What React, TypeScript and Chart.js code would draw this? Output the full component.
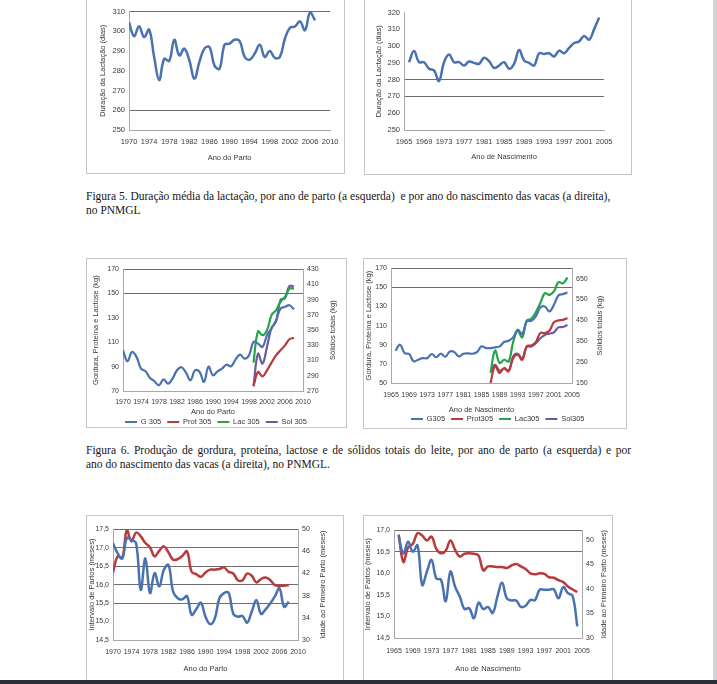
import React, { useEffect, useRef } from 'react';
import { Chart, registerables } from 'chart.js';
Chart.register(...registerables);

// ---------------- DATA ----------------
// Figura 5 – esquerda: duração da lactação por ano de parto
const F5A_YEARS = [1970,1971,1972,1973,1974,1975,1976,1977,1978,1979,1980,1981,1982,1983,1984,1985,1986,1987,1988,1989,1990,1991,1992,1993,1994,1995,1996,1997,1998,1999,2000,2001,2002,2003,2004,2005,2006,2007];
const F5A_DURACAO = [304.6,297.5,302.5,297,300.8,287,275.2,286,285,295.7,287.8,291.2,285.3,275.9,284.5,291.2,292,282.6,281,293.2,293.7,295.7,295,287,285.6,288.7,293.2,287,290,286.5,287,296.2,301.8,302.4,305,300.5,309.5,305.5];

// Figura 5 – direita: duração da lactação por ano de nascimento
const F5B_YEARS = [1966,1967,1968,1969,1970,1971,1972,1973,1974,1975,1976,1977,1978,1979,1980,1981,1982,1983,1984,1985,1986,1987,1988,1989,1990,1991,1992,1993,1994,1995,1996,1997,1998,1999,2000,2001,2002,2003,2004];
const F5B_DURACAO = [290.4,297,290.4,290.4,286.5,285.5,279.2,290.4,295,290.4,290.4,288.4,290.8,290,289.4,293,291,287,288.4,290.4,286.5,289.4,297.7,291.4,290,288.4,295.7,295.3,295.7,293.8,297.3,295.7,298.9,301.8,302.8,306,303.8,310.1,317];

// Figura 6 – esquerda: por ano de parto
const F6A_YEARS_G = [1970,1971,1972,1973,1974,1975,1976,1977,1978,1979,1980,1981,1982,1983,1984,1985,1986,1987,1988,1989,1990,1991,1992,1993,1994,1995,1996,1997,1998,1999,2000,2001,2002,2003,2004,2005,2006,2007,2008];
const F6A_G305 = [103.4,94.4,102,98,88.4,86.2,80.7,78,74.7,79.6,76,80.1,87,89.5,85,78.8,87,85.8,77.5,90,82.9,86.2,88.4,91.6,90.3,95.8,99.9,96.6,99.3,110.3,108.9,106.2,115.8,121.2,128,137.7,139,140.4,137];
const F6A_YEARS_C = [1999,2000,2001,2002,2003,2004,2005,2006,2007,2008];
const F6A_PROT305 = [74.1,85.6,82,87,93.3,99.3,103.4,107.5,112.5,113.6];
const F6A_LAC305 = [93.3,119,115.8,119.9,132.2,136.3,143.2,147.3,154.1,154.1];
const F6A_SOL305 = [276,319,306,328,353,361,389.7,392,408,407];

// Figura 6 – direita: por ano de nascimento
const F6B_YEARS_G = [1966,1967,1968,1969,1970,1971,1972,1973,1974,1975,1976,1977,1978,1979,1980,1981,1982,1983,1984,1985,1986,1987,1988,1989,1990,1991,1992,1993,1994,1995,1996,1997,1998,1999,2000,2001,2002,2003,2004];
const F6B_G305 = [83.7,90,81.3,80.3,72.7,74.3,76,76,80.3,76.9,80.6,77.5,83,82.3,77.8,80.6,81,80.6,82.3,88.3,86.5,86.5,87.2,88.3,92.8,94.2,97.7,105.7,101.2,114.4,115,119.6,129,130,124.8,131.7,141.5,142.9,144.6];
const F6B_YEARS_C = [1987,1988,1989,1990,1991,1992,1993,1994,1995,1996,1997,1998,1999,2000,2001,2002,2003,2004];
const F6B_PROT305 = [50,68,60.4,65.7,62.2,76,79.6,74.3,88.3,89.3,92.8,102.2,102.2,104.6,113.4,115.4,116,117.8];
const F6B_LAC305 = [60.4,84,70.9,74.3,72.6,92.8,104.6,97.7,115,117.1,124,133.5,143.9,142.2,145.7,155.4,154.3,160.3];
const F6B_SOL305 = [205.6,237.3,208.7,218.3,208.7,277,289.7,265.9,324.6,324.6,340.5,364.3,380.2,386.5,392.9,416.7,418.3,427.8];

// Figura 7 – esquerda: por ano de parto
const F7A_YEARS = [1970,1971,1972,1973,1974,1975,1976,1977,1978,1979,1980,1981,1982,1983,1984,1985,1986,1987,1988,1989,1990,1991,1992,1993,1994,1995,1996,1997,1998,1999,2000,2001,2002,2003,2004,2005,2006,2007,2008];
const F7A_INTERVALO = [17.12,16.85,16.71,17.26,17.21,17.12,15.86,16.71,15.77,16.31,15.95,16.4,16.53,15.81,15.63,15.6,15.69,15.18,15.33,15.51,15.13,14.93,15.08,15.63,15.77,15.78,15.21,15.13,15.15,14.97,15.27,15.58,15.21,15.33,15.49,15.68,15.9,15.4,15.54];
const F7A_IDADE = [42.2,45.1,44.8,49.9,47.8,49.4,48.7,47.5,46.7,45.1,46.1,46.9,45.8,44.5,44.6,45.2,46,42.3,41.9,41.4,42.2,42.7,42.7,42.8,43.1,42.3,42,40.8,40.8,42,41.6,40.4,41,41.3,40.8,39.9,39.8,39.8,39.9];

// Figura 7 – direita: por ano de nascimento
const F7B_YEARS = [1966,1967,1968,1969,1970,1971,1972,1973,1974,1975,1976,1977,1978,1979,1980,1981,1982,1983,1984,1985,1986,1987,1988,1989,1990,1991,1992,1993,1994,1995,1996,1997,1998,1999,2000,2001,2002,2003,2004];
const F7B_INTERVALO = [16.85,16.46,16.73,16.5,16.65,15.73,16.04,16.31,15.88,15.85,15.35,16.04,15.69,15.46,15.17,15.19,14.96,15.32,15.17,15.22,15.08,15.46,15.78,15.42,15.37,15.37,15.22,15.25,15.38,15.38,15.62,15.62,15.62,15.63,15.42,15.68,15.54,15.48,14.77];
const F7B_IDADE = [51.1,45.5,48.5,49.2,51.4,50.9,49.9,50.7,48.2,47.3,47.8,49.9,48,46.6,47.2,47.3,47.2,46.8,43.8,44.6,44.6,44.5,44.5,44.3,44.8,45.1,44.6,44.1,43.2,43,43.2,43.1,42.4,42.3,41.8,41.4,40.5,39.9,39.4];

// Tick labels
const TICKS_PARTO = [1970,1974,1978,1982,1986,1990,1994,1998,2002,2006,2010];
const TICKS_NASC = [1965,1969,1973,1977,1981,1985,1989,1993,1997,2001,2005];
const TICKS_DUR_A = [250,260,270,280,290,300,310];
const TICKS_DUR_B = [250,260,270,280,290,300,310,320];
const TICKS_KG_A = [70,90,110,130,150,170];
const TICKS_SOL_A = [270,290,310,330,350,370,390,410,430];
const TICKS_KG_B = [50,70,90,110,130,150,170];
const TICKS_SOL_B = [150,250,350,450,550,650];
const TICKS_IP_A = [14.5,15,15.5,16,16.5,17,17.5];
const TICKS_IDADE_A = [30,34,38,42,46,50];
const TICKS_IP_B = [14.5,15,15.5,16,16.5,17];
const TICKS_IDADE_B = [30,35,40,45,50];

// ---------------- STYLE ----------------
const FONT = "'Liberation Sans Narrow', 'Liberation Sans', Arial, sans-serif";
const TXT = '#383838';
const GRID = '#6e6e6e';
const AXIS = '#a8a8a8';
const BLUE = '#4a72b0';
const RED = '#b83a3c';
const GREEN = '#27a34b';
const PURPLE = '#6a5b9c';
const TITLE_SIZE = 7.5;
const LEG_SIZE = 7.5;
const LEG_PAD = 6;

type S = { label: string; xs: number[]; ys: number[]; color: string; axis: 'y' | 'y2'; width?: number };
type Axis = { min: number; max: number; ticks: number[]; grid?: number[]; title: string; titleX: number; fmt?: (v: number) => string };
type Cfg = {
  box: [number, number, number, number];
  plot: [number, number, number, number];
  tickSize: number;
  xMin: number; xMax: number; xTicks: number[]; xTickY: number; xTitle: string; xTitleY: number;
  legendY?: number; legendCx?: number;
  y: Axis; y2?: Axis; series: S[];
};

const intFmt = (v: number) => String(Math.round(v));
const commaFmt = (v: number) => v.toFixed(1).replace('.', ',');

const rightTitle = {
  id: 'rightTitle',
  afterDraw(chart: any, _a: any, o: any) {
    if (!o || !o.text) return;
    const { ctx, chartArea } = chart;
    ctx.save();
    ctx.translate(o.x, (chartArea.top + chartArea.bottom) / 2);
    ctx.rotate(-Math.PI / 2);
    ctx.font = `${TITLE_SIZE}px ${FONT}`;
    ctx.fillStyle = TXT;
    ctx.textAlign = 'center';
    ctx.textBaseline = 'middle';
    ctx.fillText(o.text, 0, 0);
    ctx.restore();
  },
};

function geometry(cfg: Cfg) {
  const [L, T, R, B] = cfg.plot;
  const tLH = TITLE_SIZE * 1.2;
  let wl = L - cfg.y.titleX + tLH / 2;
  let wr = cfg.y2 ? cfg.y2.titleX - R + 8 : 0;
  const padT = 8;
  let hx: number, xTitlePadB: number, hl = 0;
  if (cfg.legendY) {
    hx = cfg.legendY - B - LEG_PAD - LEG_SIZE / 2;
    xTitlePadB = B + hx - tLH / 2 - cfg.xTitleY;
    hl = LEG_SIZE + LEG_PAD + 10;
  } else {
    hx = cfg.xTitleY - B + tLH / 2;
    xTitlePadB = 0;
  }
  let yTitlePadT = 0;
  if (cfg.legendCx) {
    const nat = (L - wl + R + wr) / 2;
    const d = cfg.legendCx - nat;
    if (d > 0) wr += 2 * d;
    else { wl += -2 * d; yTitlePadT += -2 * d; }
  }
  const cl = Math.floor(L - wl);
  yTitlePadT += (L - wl) - cl;
  wl = L - cl;
  const ct = T - padT;
  const baseR = cfg.y2 ? 2 : 14;
  const W = Math.ceil(wl + (R - L) + wr + baseR);
  const padR = W - (wl + (R - L) + wr);
  const H = Math.ceil(padT + (B - T) + hx + hl + 2);
  const padB = H - (padT + (B - T) + hx + hl);
  return { cl, ct, W, H, wl, wr, padT, padR, padB, hx, xTitlePadB, yTitlePadT, xTickPad: cfg.xTickY - B - cfg.tickSize * 0.6 };
}

const near = (arr: number[] | undefined, v: number) => !!arr && arr.some((a) => Math.abs(a - v) < 1e-6);

function ChartBox({ cfg }: { cfg: Cfg }) {
  const ref = useRef<HTMLCanvasElement>(null);
  const g = geometry(cfg);
  useEffect(() => {
    if (!ref.current) return;
    const tickFont = { size: cfg.tickSize, family: FONT };
    const titleFont = { size: TITLE_SIZE, family: FONT };
    const scales: any = {
      x: {
        type: 'linear', min: cfg.xMin, max: cfg.xMax,
        afterBuildTicks: (s: any) => { s.ticks = cfg.xTicks.map((v) => ({ value: v })); },
        afterFit: (s: any) => { s.height = g.hx; },
        grid: { display: false, drawTicks: false },
        border: { display: true, color: AXIS, width: 1 },
        ticks: { autoSkip: false, maxRotation: 0, minRotation: 0, padding: g.xTickPad, color: TXT, font: tickFont, callback: (v: any) => String(v) },
        title: { display: true, text: cfg.xTitle, color: TXT, font: titleFont, padding: { top: 0, bottom: g.xTitlePadB } },
      },
      y: {
        type: 'linear', position: 'left', min: cfg.y.min, max: cfg.y.max,
        afterBuildTicks: (s: any) => { s.ticks = cfg.y.ticks.map((v) => ({ value: v })); },
        afterFit: (s: any) => { s.width = g.wl; },
        grid: { drawTicks: false, lineWidth: 1, color: (c: any) => (c.tick && near(cfg.y.grid, c.tick.value) ? GRID : 'rgba(0,0,0,0)') },
        border: { display: true, color: AXIS, width: 1 },
        ticks: { padding: 4, color: TXT, font: tickFont, callback: (v: any) => (cfg.y.fmt || intFmt)(Number(v)) },
        title: { display: true, text: cfg.y.title, color: TXT, font: titleFont, padding: { top: g.yTitlePadT, bottom: 0 } },
      },
    };
    if (cfg.y2) {
      const a = cfg.y2;
      scales.y2 = {
        type: 'linear', position: 'right', min: a.min, max: a.max,
        afterBuildTicks: (s: any) => { s.ticks = a.ticks.map((v) => ({ value: v })); },
        afterFit: (s: any) => { s.width = g.wr; },
        grid: { drawOnChartArea: false, drawTicks: false },
        border: { display: true, color: AXIS, width: 1 },
        ticks: { padding: 4, color: TXT, font: tickFont, callback: (v: any) => (a.fmt || intFmt)(Number(v)) },
        title: { display: false },
      };
    }
    const chart = new Chart(ref.current, {
      type: 'line',
      data: {
        datasets: cfg.series.map((s) => ({
          label: s.label,
          data: s.xs.map((x, i) => ({ x, y: s.ys[i] })),
          borderColor: s.color,
          backgroundColor: s.color,
          borderWidth: s.width ?? 2.2,
          pointRadius: 0,
          tension: 0.4,
          fill: false,
          yAxisID: s.axis,
        })),
      },
      options: {
        animation: false,
        responsive: false,
        events: [],
        layout: { padding: { left: 0, top: g.padT, right: g.padR, bottom: g.padB } },
        scales,
        plugins: {
          tooltip: { enabled: false },
          legend: {
            display: !!cfg.legendY,
            position: 'bottom',
            labels: { usePointStyle: true, pointStyle: 'line', pointStyleWidth: 12, padding: LEG_PAD, color: TXT, font: { size: LEG_SIZE, family: FONT } },
          },
          rightTitle: cfg.y2 ? { text: cfg.y2.title, x: cfg.y2.titleX - g.cl } : {},
        } as any,
      },
      plugins: [rightTitle as any],
    } as any);
    return () => chart.destroy();
  }, []);
  const [x0, y0, x1, y1] = cfg.box;
  return (
    <>
      <div style={{ position: 'absolute', left: x0, top: y0, width: x1 - x0, height: y1 - y0, border: '1px solid #c6c6c6', boxSizing: 'border-box' }} />
      <canvas ref={ref} width={g.W} height={g.H} style={{ position: 'absolute', left: g.cl, top: g.ct, width: g.W, height: g.H }} />
    </>
  );
}

// ---------------- CHART CONFIGS ----------------
const CHARTS: Cfg[] = [
  {
    box: [86, -5, 345, 174], plot: [129, 11, 332, 130], tickSize: 7.5,
    xMin: 1970, xMax: 2010, xTicks: TICKS_PARTO, xTickY: 142, xTitle: 'Ano do Parto', xTitleY: 158,
    y: { min: 250, max: 310, ticks: TICKS_DUR_A, grid: [310, 260], title: 'Duração da Lactação (dias)', titleX: 103 },
    series: [{ label: 'Duração', xs: F5A_YEARS, ys: F5A_DURACAO, color: BLUE, axis: 'y', width: 2.5 }],
  },
  {
    box: [364, -5, 632, 175], plot: [404, 12, 606, 130], tickSize: 7.5,
    xMin: 1965, xMax: 2005, xTicks: TICKS_NASC, xTickY: 142, xTitle: 'Ano de Nascimento', xTitleY: 157,
    y: { min: 250, max: 320, ticks: TICKS_DUR_B, grid: [280, 270], title: 'Duração da Lactação (dias)', titleX: 379 },
    series: [{ label: 'Duração', xs: F5B_YEARS, ys: F5B_DURACAO, color: BLUE, axis: 'y', width: 2.5 }],
  },
  {
    box: [86, 258, 347, 428], plot: [123, 269, 303, 391], tickSize: 7,
    xMin: 1970, xMax: 2010, xTicks: TICKS_PARTO, xTickY: 402, xTitle: 'Ano do Parto', xTitleY: 412,
    legendY: 422, legendCx: 216,
    y: { min: 70, max: 170, ticks: TICKS_KG_A, grid: [170, 150], title: 'Gordura, Proteína e Lactose (kg)', titleX: 96 },
    y2: { min: 270, max: 430, ticks: TICKS_SOL_A, title: 'Sólidos totais (kg)', titleX: 333 },
    series: [
      { label: 'G 305', xs: F6A_YEARS_G, ys: F6A_G305, color: BLUE, axis: 'y' },
      { label: 'Prot 305', xs: F6A_YEARS_C, ys: F6A_PROT305, color: RED, axis: 'y' },
      { label: 'Lac 305', xs: F6A_YEARS_C, ys: F6A_LAC305, color: GREEN, axis: 'y' },
      { label: 'Sol 305', xs: F6A_YEARS_C, ys: F6A_SOL305, color: PURPLE, axis: 'y2' },
    ],
  },
  {
    box: [363, 258, 627, 429], plot: [391, 268, 572, 383], tickSize: 7,
    xMin: 1965, xMax: 2005, xTicks: TICKS_NASC, xTickY: 395, xTitle: 'Ano de Nascimento', xTitleY: 410,
    legendY: 419, legendCx: 498,
    y: { min: 50, max: 170, ticks: TICKS_KG_B, grid: [170, 150], title: 'Gordura, Proteína e Lactose (kg)', titleX: 369 },
    y2: { min: 150, max: 700, ticks: TICKS_SOL_B, title: 'Sólidos totais (kg)', titleX: 600 },
    series: [
      { label: 'G305', xs: F6B_YEARS_G, ys: F6B_G305, color: BLUE, axis: 'y' },
      { label: 'Prot305', xs: F6B_YEARS_C, ys: F6B_PROT305, color: RED, axis: 'y' },
      { label: 'Lac305', xs: F6B_YEARS_C, ys: F6B_LAC305, color: GREEN, axis: 'y' },
      { label: 'Sol305', xs: F6B_YEARS_C, ys: F6B_SOL305, color: PURPLE, axis: 'y2' },
    ],
  },
  {
    box: [86, 515, 344, 692], plot: [113, 529, 298, 640], tickSize: 7,
    xMin: 1970, xMax: 2010, xTicks: TICKS_PARTO, xTickY: 652, xTitle: 'Ano do Parto', xTitleY: 669,
    y: { min: 14.5, max: 17.5, ticks: TICKS_IP_A, grid: [17.5, 17, 16.5, 16, 15.5], title: 'Intervalo de Partos (meses)', titleX: 92, fmt: commaFmt },
    y2: { min: 30, max: 50, ticks: TICKS_IDADE_A, title: 'Idade ao Primeiro Parto (meses)', titleX: 323 },
    series: [
      { label: 'Intervalo de Partos', xs: F7A_YEARS, ys: F7A_INTERVALO, color: BLUE, axis: 'y', width: 2.5 },
      { label: 'Idade ao Primeiro Parto', xs: F7A_YEARS, ys: F7A_IDADE, color: RED, axis: 'y2', width: 2.5 },
    ],
  },
  {
    box: [363, 515, 613, 692], plot: [394, 530, 582, 638], tickSize: 7,
    xMin: 1965, xMax: 2005, xTicks: TICKS_NASC, xTickY: 651, xTitle: 'Ano de Nascimento', xTitleY: 669,
    y: { min: 14.5, max: 17, ticks: TICKS_IP_B, grid: [17, 16.5], title: 'Intervalo de Partos (meses)', titleX: 368, fmt: commaFmt },
    y2: { min: 30, max: 52, ticks: TICKS_IDADE_B, title: 'Idade ao Primeiro Parto (meses)', titleX: 604 },
    series: [
      { label: 'Intervalo de Partos', xs: F7B_YEARS, ys: F7B_INTERVALO, color: BLUE, axis: 'y', width: 2.5 },
      { label: 'Idade ao Primeiro Parto', xs: F7B_YEARS, ys: F7B_IDADE, color: RED, axis: 'y2', width: 2.5 },
    ],
  },
];

const captionStyle: React.CSSProperties = {
  position: 'absolute', left: 86, whiteSpace: 'nowrap', color: '#151515',
  fontFamily: "'Liberation Serif', 'Times New Roman', serif", fontSize: 11.5, lineHeight: '13.5px',
};

export default function App() {
  return (
    <div style={{ position: 'fixed', left: 0, top: 0, width: 717, height: 684, overflow: 'hidden', background: '#fff' }}>
      {CHARTS.map((c, i) => <ChartBox key={i} cfg={c} />)}
      <div style={{ ...captionStyle, top: 190 }}>
        Figura 5. Duração média da lactação, por ano de parto (a esquerda)&nbsp; e por ano do nascimento das vacas (a direita),<br />no PNMGL
      </div>
      <div style={{ ...captionStyle, top: 444 }}>
        <div style={{ width: 545, textAlign: 'justify', textAlignLast: 'justify' }}>
          Figura 6. Produção de gordura, proteína, lactose e de sólidos totais do leite, por ano de parto (a esquerda) e por
        </div>
        <div>ano do nascimento das vacas (a direita), no PNMGL.</div>
      </div>
      <div style={{ position: 'absolute', left: 713, top: 0, width: 4, height: 684, background: '#d4d4d4' }} />
      <div style={{ position: 'absolute', left: 0, top: 680, width: 717, height: 4, background: '#29303a' }} />
    </div>
  );
}
